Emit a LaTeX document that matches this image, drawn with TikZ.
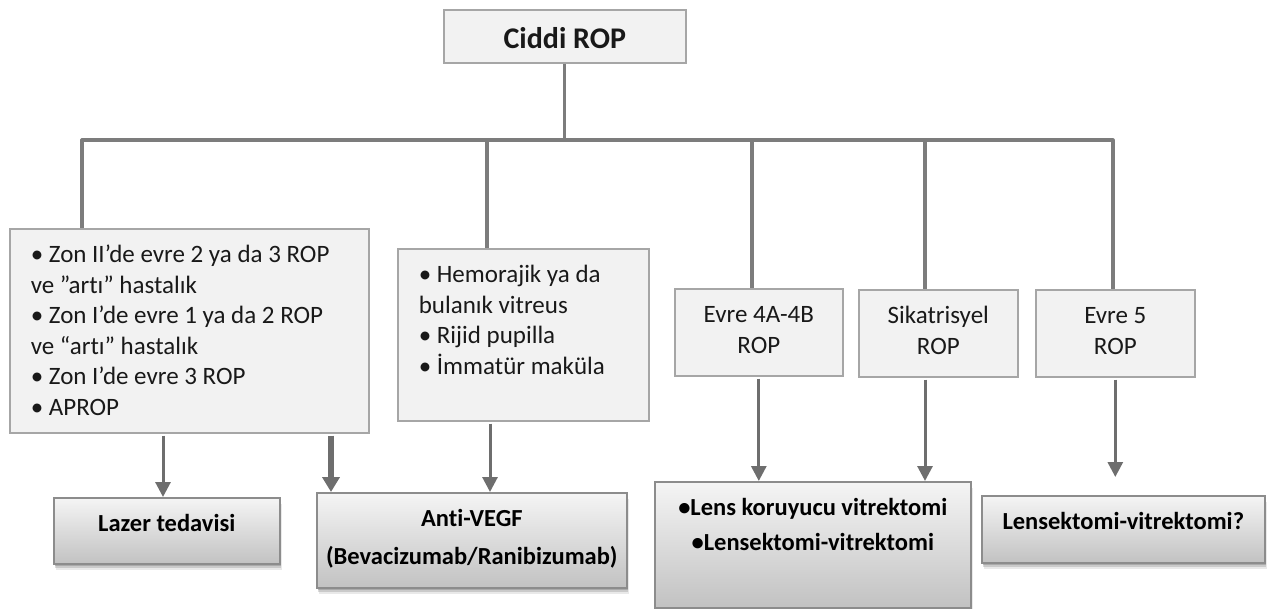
\documentclass[tikz,border=0pt]{standalone}
\usepackage{fontspec}
\setmainfont{Carlito}[Ligatures=NoCommon]
\usetikzlibrary{arrows.meta,shadows}
\definecolor{kenar}{HTML}{A6A6A6}
\definecolor{kenarkoyu}{HTML}{8C8C8C}
\definecolor{zemin}{HTML}{F2F2F2}
\definecolor{hatrenk}{HTML}{7C7C7C}
\definecolor{okrenk}{HTML}{6E6E6E}
\tikzset{
  kutu/.style={draw=kenar, line width=1.6pt, fill=zemin, anchor=north west,
    inner xsep=21pt, inner ysep=0pt, text height=34pt, text=black!90,
    font=\fontsize{25}{30.5}\selectfont},
  ortakutu/.style={kutu, inner xsep=4pt, align=flush center},
  sonuc/.style={ortakutu, draw=kenarkoyu, top color=black!4, bottom color=black!24,
    text=black, font=\bfseries\fontsize{24.5}{30.5}\selectfont,
    drop shadow={shadow xshift=1pt, shadow yshift=-2pt, opacity=0.25, fill=black!70},
    drop shadow={shadow xshift=1.5pt, shadow yshift=-4pt, opacity=0.2, fill=black!70},
    drop shadow={shadow xshift=2pt, shadow yshift=-6pt, opacity=0.12, fill=black!70}},
  hat/.style={draw=hatrenk, line width=3.2pt},
  ok/.style={draw=okrenk, line width=3pt, shorten <=2pt, -{Triangle[width=15pt,length=15pt]}}
}
\begin{document}
\begin{tikzpicture}[x=1pt,y=-1pt]
  \useasboundingbox (0,0) rectangle (1268,609);

  \node[ortakutu, text width=234pt, text height=39pt, text depth=14pt,
    font=\bfseries\fontsize{30}{36}\selectfont] (ciddi) at (443,9) {Ciddi ROP};

  \node[kutu, align=flush left, text width=317pt, text depth=170pt] (kosul1) at (9,228)
    {• Zon II’de evre 2 ya da 3 ROP\\ve ”artı” hastalık\\• Zon I’de evre 1 ya da 2 ROP\\ve “artı” hastalık\\• Zon I’de evre 3 ROP\\• APROP};
  \node[kutu, align=flush left, text width=209pt, text depth=138pt] (kosul2) at (397,248)
    {• Hemorajik ya da\\bulanık vitreus\\• Rijid pupilla\\• İmmatür maküla};
  \node[ortakutu, text width=160pt, text depth=53pt] (evre4) at (674,288) {Evre 4A-4B\\ROP};
  \node[ortakutu, text width=151pt, text depth=53pt] (sik) at (858,289) {Sikatrisyel\\ROP};
  \node[ortakutu, text width=151pt, text depth=53pt] (evre5) at (1035,289) {Evre 5\\ROP};

  \node[sonuc, text width=218pt, text depth=32pt] (lazer) at (53,497) {Lazer tedavisi};
  \node[sonuc, text width=302pt, text depth=61pt] (anti) at (316,492) {Anti-VEGF\\[7.5pt](Bevacizumab/Ranibizumab)};
  \node[sonuc, text width=308pt, text depth=92pt] (lens) at (654,481) {•Lens koruyucu vitrektomi\\[4.5pt]•Lensektomi-vitrektomi};
  \node[sonuc, text width=275pt, text depth=33pt] (lensek) at (981,495) {Lensektomi-vitrektomi?};

  \coordinate (sol) at (82,140);
  \coordinate (sag) at (1113,140);
  \coordinate (d2) at (487,140);
  \coordinate (d3) at (752,140);
  \coordinate (d4) at (925,140);
  \draw[hat] (ciddi.south) -- (ciddi.south |- sol);
  \draw[hat, line join=round] (sol |- kosul1.north) -- (sol) -- (sag) -- (sag |- evre5.north);
  \draw[hat] (d2) -- (d2 |- kosul2.north);
  \draw[hat] (d3) -- (d3 |- evre4.north);
  \draw[hat] (d4) -- (d4 |- sik.north);

  \coordinate (o1) at (163,0);
  \coordinate (o2) at (331,0);
  \coordinate (o3) at (490,0);
  \draw[ok] (o1 |- kosul1.south) -- (o1 |- lazer.north);
  \draw[ok, line width=6pt, -{Triangle[width=17pt,length=15pt]}] (o2 |- kosul1.south) -- (o2 |- anti.north);
  \draw[ok] (o3 |- kosul2.south) -- (o3 |- anti.north);
  \draw[ok] (evre4.south) -- (evre4.south |- lens.north);
  \draw[ok] (d4 |- sik.south) -- (d4 |- lens.north);
  \draw[ok, shorten >=18pt] (evre5.south) -- (evre5.south |- lensek.north);
\end{tikzpicture}
\end{document}
